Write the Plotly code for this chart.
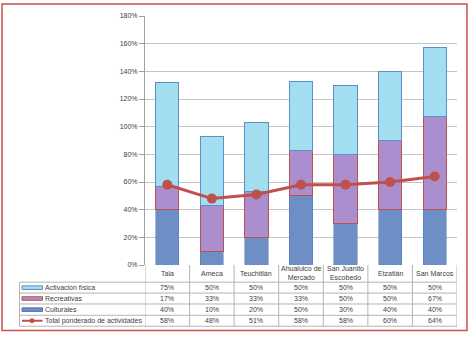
import plotly.graph_objects as go

categories = ["Tala", "Ameca", "Teuchitlán", "Ahualulco de<br>Mercado", "San Juanito<br>Escobedo", "Etzatlán", "San Marcos"]
activacion = [75, 50, 50, 50, 50, 50, 50]
recreativas = [17, 33, 33, 33, 50, 50, 67]
culturales = [40, 10, 20, 50, 30, 40, 40]
total = [58, 48, 51, 58, 58, 60, 64]
series_names = ["Activación física", "Recreativas", "Culturales", "Total ponderado de actividades"]
yticks = [0, 20, 40, 60, 80, 100, 120, 140, 160, 180]

W, H = 473, 337
L, R, T, B = 145, 16, 14, 72
PW = W - L - R
PH = H - T - B

def xp(x):
    return (x - L) / PW

def yp(y):
    return (H - B - y) / PH

FONT = "Liberation Sans, Arial, sans-serif"
TXT = "#404040"
GRID = "#c4c4c4"
TBL = "#b4b4b4"

C_CULT = "#6e8fc6"
C_REC = "#ab8ecd"
C_ACT = "#a3def0"
C_RED = "#c0504d"
C_ACT_LINE = "#5b8fc9"

idx = list(range(len(categories)))

fig = go.Figure()
fig.add_trace(go.Bar(x=idx, y=culturales, name=series_names[2],
                     marker=dict(color=C_CULT, line=dict(color="#4f75b0", width=0.5))))
fig.add_trace(go.Bar(x=idx, y=recreativas, name=series_names[1],
                     marker=dict(color=C_REC, line=dict(color=C_RED, width=1))))
fig.add_trace(go.Bar(x=idx, y=activacion, name=series_names[0],
                     marker=dict(color=C_ACT, line=dict(color=C_ACT_LINE, width=1))))
fig.add_trace(go.Scatter(x=idx, y=total, name=series_names[3], mode="lines+markers",
                         line=dict(color=C_RED, width=3),
                         marker=dict(color=C_RED, size=10)))

shapes = []
# outer border
shapes.append(dict(type="rect", xref="paper", yref="paper",
                   x0=xp(2), x1=xp(467), y0=yp(331), y1=yp(2),
                   line=dict(color="#c9504d", width=1.5), layer="below"))

# table lines
row_lines = [282.3, 293.3, 304.3, 315.7, 326.7]
for y in row_lines:
    shapes.append(dict(type="line", xref="paper", yref="paper",
                       x0=xp(19.5), x1=1, y0=yp(y), y1=yp(y),
                       line=dict(color=TBL, width=1)))
# left border of legend column
shapes.append(dict(type="line", xref="paper", yref="paper",
                   x0=xp(19.5), x1=xp(19.5), y0=yp(282.3), y1=yp(326.7),
                   line=dict(color=TBL, width=1)))
# category separators
for i in range(len(categories) + 1):
    shapes.append(dict(type="line", xref="x", yref="paper",
                       x0=i - 0.5, x1=i - 0.5, y0=0, y1=yp(326.7),
                       line=dict(color=TBL, width=1)))

annotations = []
hdr_y = 273.5
for i, c in enumerate(categories):
    annotations.append(dict(x=i, y=yp(hdr_y), xref="x", yref="paper", text=c,
                            showarrow=False, font=dict(family=FONT, size=7, color=TXT),
                            xanchor="center", yanchor="middle"))

row_centers = [287.8, 298.8, 310.0, 321.2]
rows = [activacion, recreativas, culturales, total]
for r, vals in enumerate(rows):
    for i, v in enumerate(vals):
        annotations.append(dict(x=i, y=yp(row_centers[r]), xref="x", yref="paper",
                                text=f"{v}%", showarrow=False,
                                font=dict(family=FONT, size=7, color=TXT),
                                xanchor="center", yanchor="middle"))
    annotations.append(dict(x=xp(43), y=yp(row_centers[r]), xref="paper", yref="paper",
                            text=series_names[r], showarrow=False,
                            font=dict(family=FONT, size=7, color=TXT),
                            xanchor="left", yanchor="middle"))

# legend keys
key_fill = [C_ACT, C_REC, C_CULT]
key_line = [C_ACT_LINE, C_RED, "#4f75b0"]
for r in range(3):
    yc = row_centers[r]
    shapes.append(dict(type="rect", xref="paper", yref="paper",
                       x0=xp(22), x1=xp(42.5), y0=yp(yc + 1.8), y1=yp(yc - 1.8),
                       fillcolor=key_fill[r], line=dict(color=key_line[r], width=1)))
yc = row_centers[3]
shapes.append(dict(type="line", xref="paper", yref="paper",
                   x0=xp(22), x1=xp(42.5), y0=yp(yc), y1=yp(yc),
                   line=dict(color=C_RED, width=2)))
shapes.append(dict(type="circle", xref="paper", yref="paper",
                   x0=xp(29.5), x1=xp(34.5), y0=yp(yc + 2.5), y1=yp(yc - 2.5),
                   fillcolor=C_RED, line=dict(color=C_RED, width=0)))

fig.update_layout(
    width=W, height=H,
    margin=dict(l=L, r=R, t=T, b=B, pad=0),
    paper_bgcolor="white", plot_bgcolor="white",
    barmode="stack", bargap=0.48,
    showlegend=False,
    font=dict(family=FONT, size=7, color=TXT),
    xaxis=dict(range=[-0.5, len(categories) - 0.5], showticklabels=False,
               showgrid=False, zeroline=False, showline=False, ticks="",
               fixedrange=True),
    yaxis=dict(range=[0, 180], tickvals=yticks, ticktext=[f"{t}%" for t in yticks],
               showgrid=True, gridcolor=GRID, gridwidth=1, zeroline=False,
               showline=True, linecolor="#a0a0a0", linewidth=1,
               ticks="outside", ticklen=5, tickcolor="#a0a0a0",
               tickfont=dict(family=FONT, size=7, color=TXT), fixedrange=True),
    shapes=shapes,
    annotations=annotations,
)

fig.write_html("out.html")
